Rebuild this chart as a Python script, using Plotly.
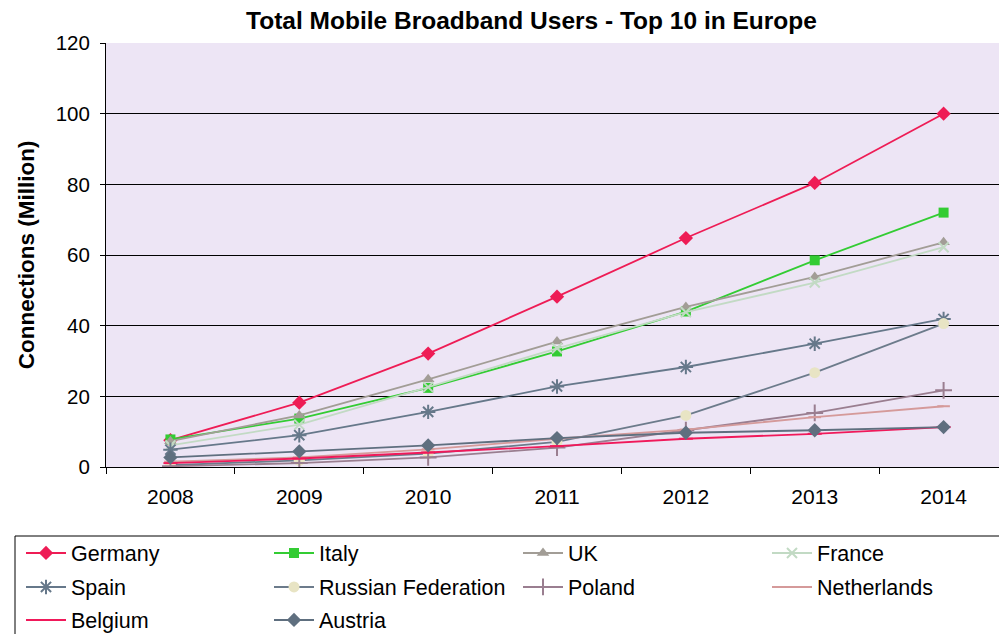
import plotly.graph_objects as go

years = ["2008", "2009", "2010", "2011", "2012", "2013", "2014"]
germany = [7.6, 18.2, 32.1, 48.2, 64.8, 80.4, 100.0]
italy = [7.8, 13.7, 22.4, 32.7, 44.0, 58.5, 72.0]
uk = [7.3, 14.6, 24.8, 35.5, 45.3, 53.8, 63.6]
france = [6.1, 12.0, 22.6, 33.6, 43.8, 52.2, 62.2]
spain = [4.9, 9.0, 15.6, 22.8, 28.3, 34.9, 41.9]
russia = [0.5, 1.9, 3.8, 7.1, 14.6, 26.7, 40.6]
poland = [0.2, 1.1, 2.7, 5.5, 10.4, 15.3, 21.7]
netherlands = [1.5, 2.7, 5.0, 8.0, 10.6, 14.1, 17.2]
belgium = [1.1, 2.4, 4.1, 5.9, 8.0, 9.4, 11.3]
austria = [2.7, 4.4, 6.1, 8.2, 9.7, 10.4, 11.3]

series = [
    ("Germany", germany, "#EE1C55", "#EE1C55", "diamond", 11),
    ("Italy", italy, "#33CC33", "#33CC33", "square", 10),
    ("UK", uk, "#A29D96", "#A29D96", "triangle-up", 11),
    ("France", france, "#C2DAC4", "#C2DAC4", "x-thin", 10),
    ("Spain", spain, "#66788A", "#66788A", "asterisk", 12),
    ("Russian Federation", russia, "#6C7B8B", "#E8E4C4", "circle", 11),
    ("Poland", poland, "#9A7E90", "#9A7E90", "cross-thin", 12),
    ("Netherlands", netherlands, "#D59A9A", "#D59A9A", "line-ew", 9),
    ("Belgium", belgium, "#F0195A", "#F0195A", "line-ew", 10),
    ("Austria", austria, "#5F6F7F", "#5F6F7F", "diamond", 11),
]

# legend grid: 4 columns, 3 rows (text left x, row center y in page pixels)
col_text_x = [71, 319, 568, 817]
row_center_y = [553, 587, 620]

x_idx = list(range(len(years)))

fig = go.Figure()
legend_layouts = {}
for i, (name, vals, lc, mc, sym, sz) in enumerate(series):
    open_sym = sym in ("x-thin", "asterisk", "cross-thin", "line-ew")
    lname = "legend" if i == 0 else f"legend{i + 1}"
    fig.add_trace(go.Scatter(
        x=x_idx, y=vals, name=name, mode="lines+markers",
        line=dict(color=lc, width=1.8),
        marker=dict(symbol=sym, size=sz, color=mc,
                    line=dict(color=mc, width=2 if open_sym else 0)),
        legend=lname,
    ))
    r, c = divmod(i, 4)
    legend_layouts[lname] = dict(
        xref="container", yref="container",
        x=(col_text_x[c] - 50) / 999, y=1 - row_center_y[r] / 634,
        xanchor="left", yanchor="middle",
        bgcolor="rgba(0,0,0,0)", borderwidth=0, itemwidth=40,
        font=dict(size=21.5), orientation="h",
    )

fig.update_layout(
    width=999, height=634,
    margin=dict(l=106, r=0, t=43, b=167),
    paper_bgcolor="white",
    plot_bgcolor="#EDE5F5",
    font=dict(family="Liberation Sans, Arial, sans-serif", color="black", size=20.5),
    title=dict(text="<b>Total Mobile Broadband Users - Top 10 in Europe</b>",
               x=0.532, xref="container", xanchor="center",
               y=1 - 20 / 634, yref="container", yanchor="middle",
               font=dict(size=24.5)),
    showlegend=True,
    **legend_layouts,
)

# legend frame (decoration only)
fig.add_shape(type="rect", xref="paper", yref="paper",
              x0=(15 - 106) / 893, x1=1.05, y0=-0.6, y1=(467 - 536) / 424,
              line=dict(color="black", width=1), fillcolor="rgba(0,0,0,0)",
              layer="above")

fig.update_xaxes(
    range=[-0.5, 6.43], tickmode="array", tickvals=x_idx, ticktext=years,
    ticks="", showgrid=False, zeroline=False,
    showline=True, linecolor="black", linewidth=1,
    tickfont=dict(size=21), automargin=False, ticklabelstandoff=11,
    minor=dict(tickmode="array", tickvals=[i + 0.5 for i in range(-1, 6)],
               ticks="outside", ticklen=6, tickcolor="black", showgrid=False),
)
fig.update_yaxes(
    range=[0, 120], tickvals=[0, 20, 40, 60, 80, 100, 120],
    ticks="outside", ticklen=5, tickcolor="black",
    showgrid=True, gridcolor="black", gridwidth=1, zeroline=False,
    showline=True, linecolor="black", linewidth=1,
    tickfont=dict(size=20.5), ticklabelstandoff=6,
    title=dict(text="<b>Connections (Million)</b>", font=dict(size=22.5), standoff=14),
    automargin=False,
)

fig.write_html("out.html", config={"displayModeBar": False},
               post_script="document.body.style.margin='0px';")
